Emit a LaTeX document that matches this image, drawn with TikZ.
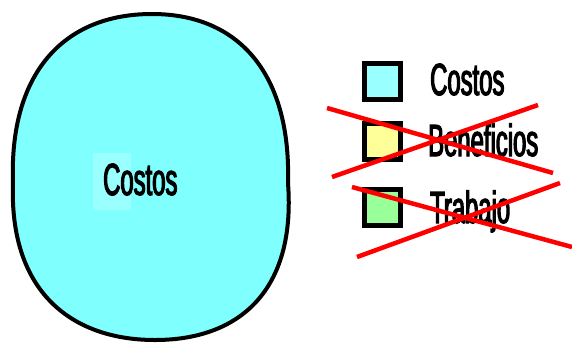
\documentclass[tikz,border=0pt]{standalone}
\usepackage{fontspec}
\newfontfamily\narrowfont[FakeStretch=0.53,FakeBold=2.5]{Liberation Sans}
\usetikzlibrary{positioning}
\definecolor{blobcyan}{HTML}{80FFFF}
\definecolor{keycyan}{HTML}{99FFFF}
\definecolor{keyyellow}{HTML}{FFFF99}
\definecolor{keygreen}{HTML}{99FF99}
\begin{document}
\begin{tikzpicture}[
    x=1pt, y=-1pt,
    keybox/.style={draw, line width=5pt, minimum size=36pt, inner sep=0pt},
    keytext/.style={anchor=base west, inner sep=0pt, font=\narrowfont\fontsize{45}{45}\selectfont},
    cross/.style={red, line width=4.5pt}
]
    \useasboundingbox (0,0) rectangle (572,343);

    % Main area (costs only)
    \draw[fill=blobcyan, line width=4pt]
        (13,183) .. controls (9,75) and (62,14) .. (152,14)
        .. controls (240,14) and (291,75) .. (288,183)
        .. controls (296,290) and (240,340) .. (155,340)
        .. controls (70,340) and (9,290) .. (13,183) -- cycle;
    \fill[keycyan] (93,153) rectangle (131,210);
    \node[keytext] (main) at (103,195) {Costos};

    % Legend
    \node[keybox, fill=keycyan] (kcost) at (382,81) {};
    \node[keybox, fill=keyyellow] (kbenef) at (382,141) {};
    \node[keybox, fill=keygreen] (kwork) at (382,207) {};
    \node[keytext] (tcost) at (430,95) {Costos};
    \node[keytext] (tbenef) at (428,156) {Beneficios};
    \node[keytext] (twork) at (430,223) {Trabajo};

    % Crossed-out entries
    \draw[cross] (327,108) -- (553,173);
    \draw[cross] (332,177) -- (538,105);
    \draw[cross] (352,187) -- (572,247);
    \draw[cross] (357,257) -- (560,183);
\end{tikzpicture}
\end{document}
